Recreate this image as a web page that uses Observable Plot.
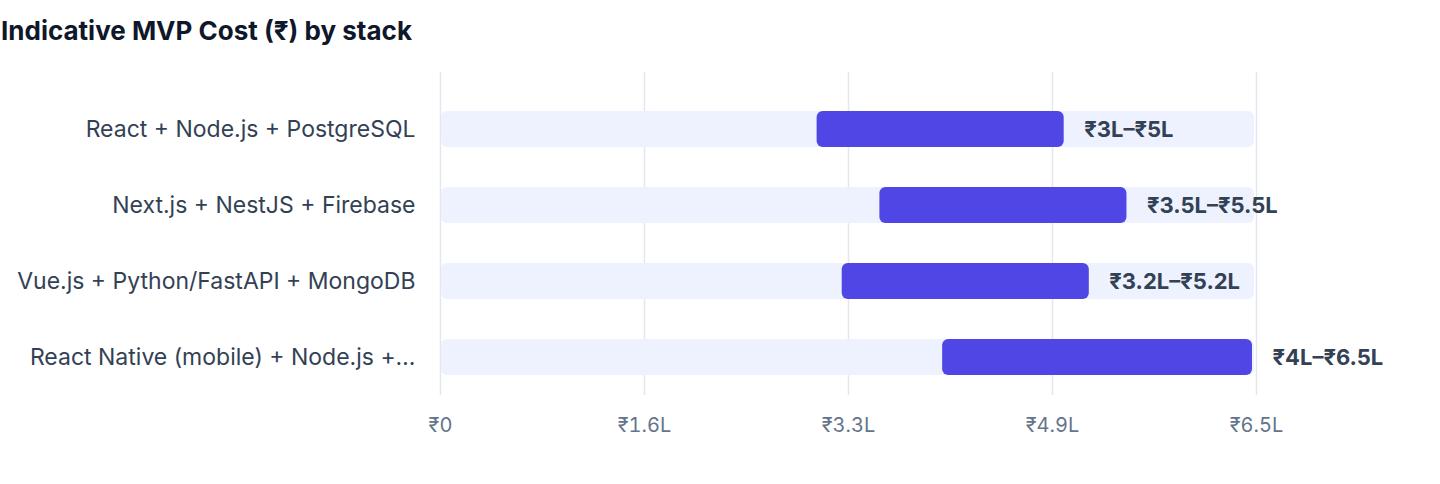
<!DOCTYPE html>
<html>
<head>
<meta charset="utf-8">
<script src="https://cdn.jsdelivr.net/npm/d3@7"></script>
<script src="https://cdn.jsdelivr.net/npm/@observablehq/plot@0.6"></script>
<style>
  body { margin: 0; background: #fff; font-family: Inter, "Liberation Sans", Arial, sans-serif; }
  #title { height: 60px; box-sizing: border-box; padding: 14px 0 0 1px; font-size: 26px; font-weight: bold; color: #0f172a; line-height: 34px; }
  svg { display: block; }
</style>
</head>
<body>
<div id="title">Indicative MVP Cost (₹) by stack</div>
<div id="chart"></div>
<script>
const stacks = [
  "React + Node.js + PostgreSQL",
  "Next.js + NestJS + Firebase",
  "Vue.js + Python/FastAPI + MongoDB",
  "React Native (mobile) + Node.js + Firebase"
];
const lowValues = [3, 3.5, 3.2, 4];      // ₹ lakh
const highValues = [5, 5.5, 5.2, 6.5];   // ₹ lakh
const rangeLabels = ["₹3L–₹5L", "₹3.5L–₹5.5L", "₹3.2L–₹5.2L", "₹4L–₹6.5L"];
const axisMax = 6.5;
const xTicks = [0, 1.625, 3.25, 4.875, 6.5];
const xTickLabels = ["₹0", "₹1.6L", "₹3.3L", "₹4.9L", "₹6.5L"];

const data = stacks.map((s, i) => ({stack: s, low: lowValues[i], high: highValues[i], label: rangeLabels[i]}));

const trunc = (s) => s.length > 34 ? s.slice(0, 33) + "…" : s;

const chart = Plot.plot({
  width: 1440,
  height: 424,
  marginTop: 12,
  marginBottom: 89,
  marginLeft: 440,
  marginRight: 184,
  style: {fontFamily: "Inter, 'Liberation Sans', Arial, sans-serif", background: "#fff"},
  x: {domain: [0, axisMax], label: null},
  y: {domain: stacks, range: [31, 335], padding: 0.526, paddingOuter: 0.263, label: null},
  marks: [
    Plot.ruleX(xTicks, {stroke: "#e2e8f0", strokeWidth: 1.5}),
    Plot.barX(data, {y: "stack", x1: 0, x2: axisMax, fill: "#eef2ff", rx: 6, insetLeft: 1, insetRight: 2}),
    Plot.barX(data, {y: "stack", x1: "low", x2: "high", fill: "#4f46e5", rx: 6, insetRight: 4}),
    Plot.text(data, {y: "stack", x: "high", text: "label", dx: 16, textAnchor: "start", fontSize: 22, fontWeight: "bold", fill: "#334155"}),
    Plot.axisX({ticks: xTicks, tickFormat: (d) => xTickLabels[xTicks.indexOf(d)], tickSize: 0, tickPadding: 22, fontSize: 20, color: "#64748b", label: null}),
    Plot.axisY({tickSize: 0, tickPadding: 25, fontSize: 23, color: "#334155", tickFormat: trunc, label: null})
  ]
});
document.getElementById("chart").appendChild(chart);
</script>
</body>
</html>
